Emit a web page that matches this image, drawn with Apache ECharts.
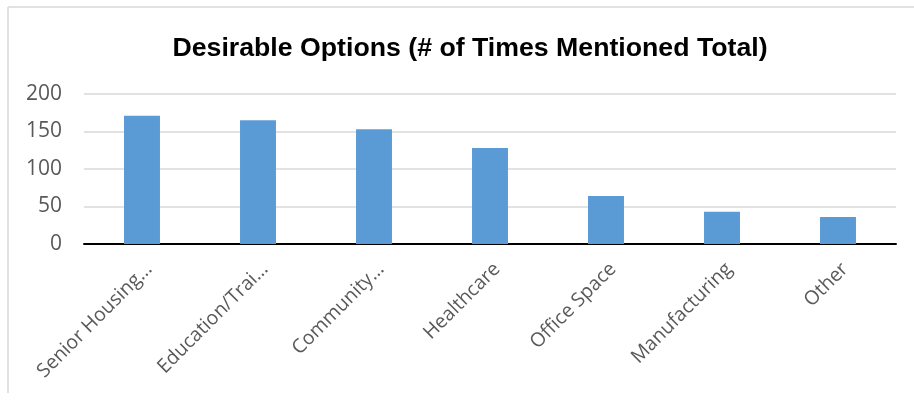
<!DOCTYPE html>
<html>
<head>
<meta charset="utf-8">
<script src="https://cdn.jsdelivr.net/npm/echarts@6/dist/echarts.min.js"></script>
<style>
html,body{margin:0;padding:0;background:#fff;}
#c{width:914px;height:400px;}
</style>
</head>
<body>
<div id="c"></div>
<script>
const categories = ["Senior Housing…", "Education/Trai…", "Community…", "Healthcare", "Office Space", "Manufacturing", "Other"];
const values = [171, 165, 153, 128, 64, 43, 36];
const yTicks = { min: 0, max: 200, interval: 50 };

const chart = echarts.init(document.getElementById('c'), null, { renderer: 'canvas' });
chart.setOption({
  animation: false,
  backgroundColor: '#ffffff',
  title: {
    text: 'Desirable Options (# of Times Mentioned Total)',
    left: 465, top: 30, textAlign: 'center',
    textStyle: { fontFamily: 'Liberation Sans', fontWeight: 'bold', fontSize: 26.7, color: '#000' }
  },
  graphic: [
    { type: 'line', shape: { x1: 8, y1: 7, x2: 914, y2: 7 }, style: { stroke: '#d9d9d9', lineWidth: 1.5 } },
    { type: 'line', shape: { x1: 8, y1: 7, x2: 8, y2: 393 }, style: { stroke: '#d9d9d9', lineWidth: 1.5 } }
  ],
  grid: { left: 84, right: 18, top: 94, bottom: 156 },
  xAxis: {
    type: 'category',
    data: categories,
    axisLine: { lineStyle: { color: '#000', width: 2 } },
    axisTick: { show: false },
    axisLabel: {
      rotate: 45, interval: 0, margin: 15,
      verticalAlign: 'top',
      fontFamily: 'Open Sans', fontSize: 19.5, color: '#595959'
    }
  },
  yAxis: {
    type: 'value',
    min: yTicks.min, max: yTicks.max, interval: yTicks.interval,
    axisLine: { show: false },
    axisTick: { show: false },
    splitLine: { lineStyle: { color: '#d9d9d9', width: 1.5 } },
    axisLabel: { fontFamily: 'Open Sans', fontSize: 21, color: '#595959', margin: 22 }
  },
  series: [{
    type: 'bar',
    data: values,
    barWidth: '31%',
    itemStyle: { color: '#5b9bd5' }
  }]
});
</script>
</body>
</html>
